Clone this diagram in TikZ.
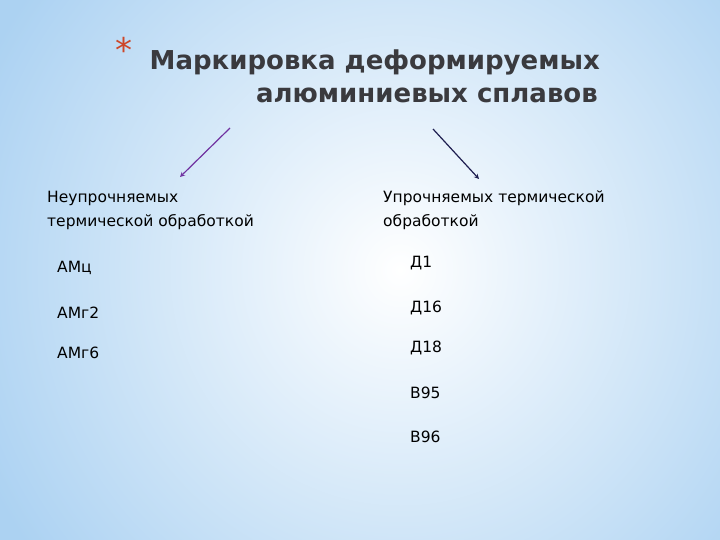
\documentclass[tikz,border=0pt]{standalone}
\usepackage{fontspec}
\setmainfont{DejaVu Sans}
\usetikzlibrary{positioning}
\definecolor{titlegray}{RGB}{58,58,62}
\definecolor{starred}{RGB}{205,70,40}
\definecolor{bgblue}{RGB}{172,210,242}
\definecolor{arrowpurple}{RGB}{112,50,160}
\definecolor{arrownavy}{RGB}{30,30,80}
\tikzset{
  title/.style={font=\bfseries\fontsize{26}{30}\selectfont,text=titlegray,inner sep=0pt},
  head/.style={font=\fontsize{15.5}{23}\selectfont,inner sep=0pt,anchor=base west},
  alloy/.style={font=\fontsize{15.5}{17}\selectfont,inner sep=0pt,anchor=west}
}
\begin{document}
\begin{tikzpicture}[x=1pt,y=-1pt]
    \useasboundingbox (0,0) rectangle (720,540);
    \shade[inner color=white,outer color=bgblue] (-60,-200) rectangle (860,740);
    % title
    \node [title,anchor=base east] (t1) at (600,70) {Маркировка деформируемых};
    \node [title,anchor=base east] (t2) at (598,103) {алюминиевых сплавов};
    \node [font=\fontsize{34}{34}\selectfont,text=starred,anchor=base east,inner sep=0pt] (star) at (133,63) {*};
    % two groups
    \node [head] (left1) at (47,203) {Неупрочняемых};
    \node [head] (left2) at (47,226) {термической обработкой};
    \node [head] (right1) at (383,203) {Упрочняемых термической};
    \node [head] (right2) at (383,226) {обработкой};
    \coordinate (la) at (230,128);
    \coordinate (lb) at (180,177);
    \coordinate (ra) at (433,129);
    \coordinate (rb) at (479,179);
    \draw [->,>=stealth,arrowpurple,line width=1.2pt] (la)--(lb);
    \draw [->,>=stealth,arrownavy,line width=1.2pt] (ra)--(rb);
    % alloys
    \foreach \n/\y in {АМц/268,АМг2/313,АМг6/353}
    \node [alloy] (l-\y) at (57,\y) {\n};
    \foreach \n/\y in {Д1/263,Д16/308,Д18/348,В95/393,В96/437}
    \node [alloy] (r-\y) at (410,\y) {\n};
  \end{tikzpicture}
\end{document}
